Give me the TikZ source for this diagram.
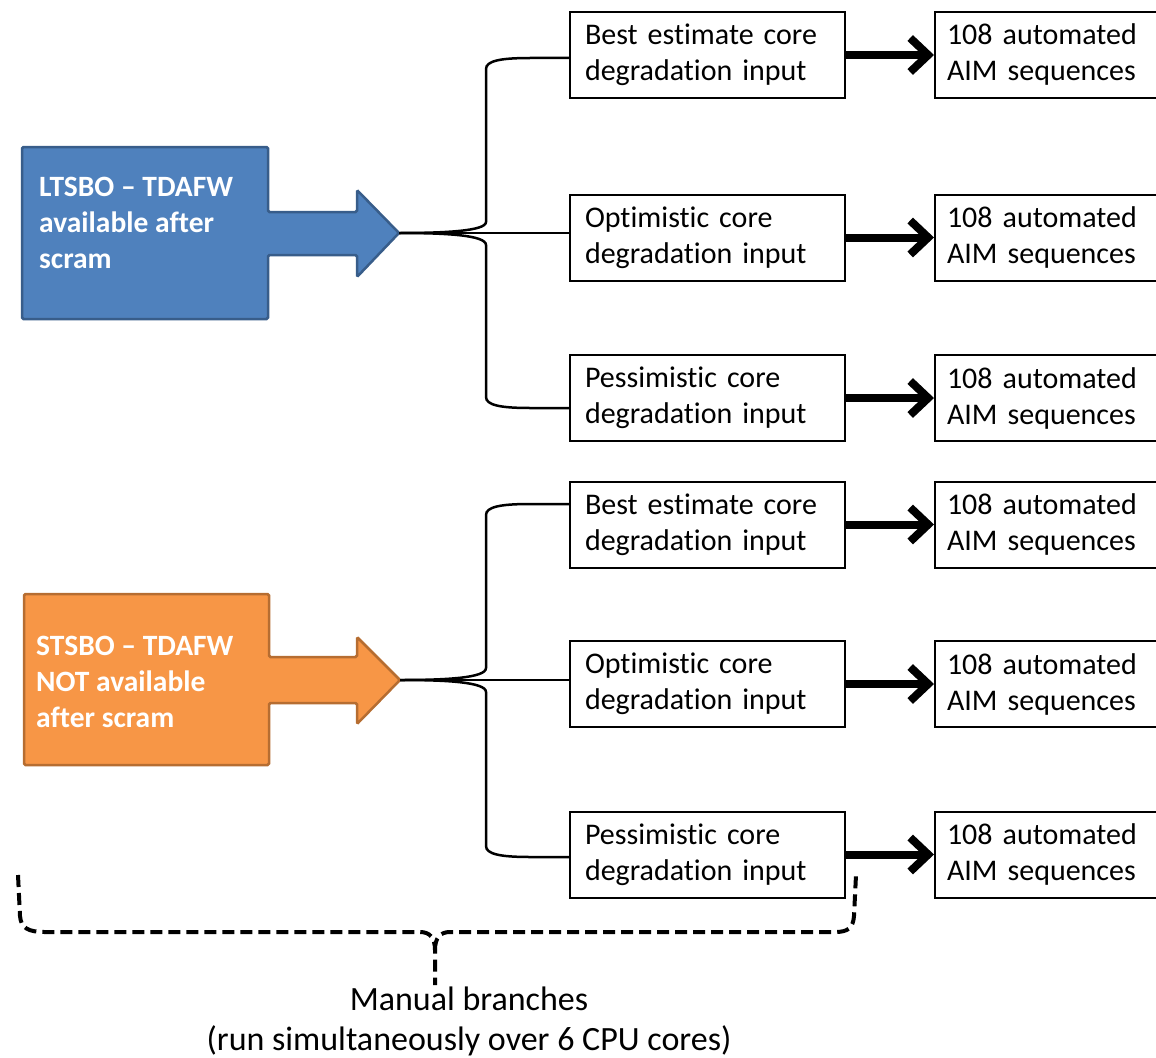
\documentclass[tikz,border=0pt]{standalone}
\usepackage{fontspec}
\setmainfont{Carlito}[Ligatures=NoCommon]
\usetikzlibrary{arrows.meta,calc}
\definecolor{blueF}{HTML}{4F81BD}
\definecolor{blueD}{HTML}{385D8A}
\definecolor{orangeF}{HTML}{F79646}
\definecolor{orangeD}{HTML}{B66D31}
\begin{document}
\begin{tikzpicture}[x=1pt,y=-1pt,
  font=\fontsize{30}{36}\selectfont,
  inbox/.style={draw, line width=2pt, minimum width=275pt, minimum height=86pt,
    text width=245pt, inner xsep=15pt, inner ysep=0pt, align=left},
  outbox/.style={draw, line width=2pt, minimum width=240pt, minimum height=86pt,
    text width=216pt, inner xsep=12pt, inner ysep=0pt, align=left},
  brace/.style={line width=2.5pt},
  bigarrow/.style={line width=8pt, -{Straight Barb[length=18pt,width=34pt]}},
  shapeA/.style={fill=blueF, draw=blueD, line width=2.5pt, rounded corners=1.5pt},
  shapeB/.style={fill=orangeF, draw=orangeD, line width=2.5pt, rounded corners=1.5pt},
  lbl/.style={text=white, font=\fontsize{29.5}{36}\selectfont\bfseries, align=left, inner sep=0pt},
  dbrace/.style={line width=4pt, dash pattern=on 12pt off 6pt},
]
\useasboundingbox (0,0) rectangle (1156,1057);

% left shapes
\draw[shapeA] (22,147) -- (268,147) -- (268,212) -- (357,212) -- (357,190) -- (399,233)
  -- (357,277) -- (357,255) -- (268,255) -- (268,319) -- (22,319) -- cycle;
\coordinate (tipA) at (399,233);
\node[lbl, anchor=west] (tA) at (39,223) {LTSBO – TDAFW\\available after\\scram};

\draw[shapeB] (24,594) -- (269,594) -- (269,657) -- (357,657) -- (357,637) -- (400,680)
  -- (357,724) -- (357,703) -- (269,703) -- (269,765) -- (24,765) -- cycle;
\coordinate (tipB) at (400,680);
\node[lbl, anchor=west] (tB) at (36,682) {STSBO – TDAFW\\NOT available\\after scram};

% input boxes
\node[inbox] (b1) at (707.5,55)   {Best estimate core\\degradation input};
\node[inbox] (b2) at (707.5,237.5) {Optimistic core\\degradation input};
\node[inbox] (b3) at (707.5,398)  {Pessimistic core\\degradation input};
\node[inbox] (b4) at (707.5,524.5) {Best estimate core\\degradation input};
\node[inbox] (b5) at (707.5,684)  {Optimistic core\\degradation input};
\node[inbox] (b6) at (707.5,854.5) {Pessimistic core\\degradation input};

% output boxes
\node[outbox] (r1) at (1055,55)    {108 automated\\AIM sequences};
\node[outbox] (r2) at (1055,237.5) {108 automated\\AIM sequences};
\node[outbox] (r3) at (1055,398)   {108 automated\\AIM sequences};
\node[outbox] (r4) at (1055,524.5) {108 automated\\AIM sequences};
\node[outbox] (r5) at (1055,684)   {108 automated\\AIM sequences};
\node[outbox] (r6) at (1055,854.5) {108 automated\\AIM sequences};

% braces group A
\draw[brace] (tipA) .. controls (445,233) and (486,231) .. (486,222) -- (486,69)
  .. controls (486,61) and (500,58) .. (530,58) -- ([yshift=-3pt]b1.west);
\draw[brace] (tipA) -- (tipA -| b2.west);
\draw[brace] (tipA) .. controls (445,233) and (486,235) .. (486,245) -- (486,397)
  .. controls (486,405) and (500,408) .. (530,408) -- ([yshift=-10pt]b3.west);

% braces group B
\draw[brace] (tipB) .. controls (446,680) and (486,678) .. (486,668) -- (486,515)
  .. controls (486,507) and (500,504) .. (530,504) -- ([yshift=20.5pt]b4.west);
\draw[brace] (tipB) -- (tipB -| b5.west);
\draw[brace] (tipB) .. controls (446,680) and (486,682) .. (486,692) -- (486,846)
  .. controls (486,854) and (500,857) .. (530,857) -- ([yshift=-2.5pt]b6.west);

% thick arrows
\foreach \i in {1,...,6}{
  \draw[bigarrow] (b\i.east) -- (r\i.west);
}

% caption and dashed brace
\node[align=center, font=\fontsize{34}{40}\selectfont] (cap) at (469,1021)
  {Manual branches\\(run simultaneously over 6 CPU cores)};
\draw[dbrace] (18,875) -- (20,916) .. controls (21,928) and (28,932) .. (45,932) -- (420,932)
  .. controls (430,932) and (435,938) .. (435,950) -- (435,985);
\draw[dbrace] (435,950) .. controls (435,938) and (440,932) .. (450,932) -- (835,932)
  .. controls (848,932) and (853,928) .. (854,916) -- (856,875);
\end{tikzpicture}
\end{document}
